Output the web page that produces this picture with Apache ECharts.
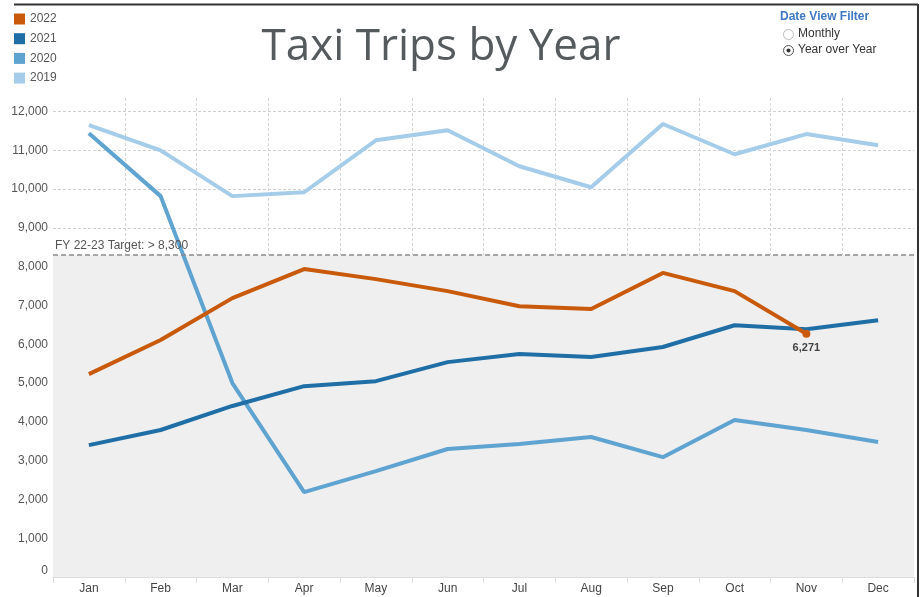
<!DOCTYPE html>
<html>
<head>
<meta charset="utf-8">
<script src="https://cdn.jsdelivr.net/npm/echarts@6/dist/echarts.min.js"></script>
<style>
  html, body { margin: 0; padding: 0; background: #fff; }
  #chart { width: 921px; height: 597px; }
</style>
</head>
<body>
<div id="chart"></div>
<script>
const months = ['Jan', 'Feb', 'Mar', 'Apr', 'May', 'Jun', 'Jul', 'Aug', 'Sep', 'Oct', 'Nov', 'Dec'];
const years = ['2022', '2021', '2020', '2019'];
const trips2022 = [5230, 6110, 7190, 7940, 7680, 7370, 6980, 6910, 7840, 7370, 6271, null];
const trips2021 = [3400, 3790, 4410, 4920, 5050, 5540, 5750, 5670, 5930, 6490, 6390, 6620];
const trips2020 = [11440, 9820, 5000, 2190, 2730, 3300, 3430, 3610, 3090, 4050, 3790, 3480];
const trips2019 = [11650, 11000, 9820, 9920, 11260, 11520, 10590, 10050, 11680, 10900, 11420, 11130];
const target = 8300;
const yMax = 12350;

const colors = {
  '2022': '#c95a0b',
  '2021': '#1f6ea6',
  '2020': '#5fa3d1',
  '2019': '#a5cde9'
};

const chart = echarts.init(document.getElementById('chart'));

function lineSeries(name, data, z) {
  return {
    name: name,
    type: 'line',
    data: data,
    z: z,
    color: colors[name],
    symbol: 'none',
    lineStyle: { width: 4, color: colors[name] },
    itemStyle: { color: colors[name] },
    emphasis: { disabled: true },
    animation: false
  };
}

const s2022 = lineSeries('2022', trips2022, 6);
s2022.data = trips2022.map((v, i) => {
  if (i === 10) {
    return {
      value: v,
      symbol: 'circle',
      symbolSize: 8,
      label: {
        show: true,
        position: 'bottom',
        distance: 5,
        fontSize: 11,
        fontWeight: 'bold',
        color: '#444',
        fontFamily: 'Liberation Sans, Arial, sans-serif',
        formatter: (p) => p.value.toLocaleString('en-US')
      }
    };
  }
  return v;
});
s2022.markLine = {
  silent: true,
  symbol: 'none',
  lineStyle: { type: [5, 3], color: '#8c8c8c', width: 1.5 },
  label: {
    position: 'insideStartTop',
    distance: [2, 3],
    formatter: 'FY 22-23 Target: > 8,300',
    color: '#555',
    fontSize: 12,
    fontFamily: 'Liberation Sans, Arial, sans-serif'
  },
  data: [{ yAxis: target }]
};

const s2019 = lineSeries('2019', trips2019, 3);
s2019.markArea = {
  silent: true,
  itemStyle: { color: '#efefef' },
  data: [[{ yAxis: 0 }, { yAxis: target }]]
};

const option = {
  backgroundColor: '#fff',
  color: years.map(y => colors[y]),
  textStyle: { fontFamily: 'Liberation Sans, Arial, sans-serif' },
  legend: {
    orient: 'vertical',
    left: 14,
    top: 13,
    padding: 0,
    icon: 'rect',
    itemWidth: 11,
    itemHeight: 11,
    itemGap: 7.7,
    data: years,
    selectedMode: false,
    textStyle: { color: '#555', fontSize: 12, padding: [0, 0, 0, 0] }
  },
  grid: { left: 53, right: 7, top: 98, bottom: 20 },
  xAxis: {
    type: 'category',
    data: months,
    boundaryGap: true,
    axisLine: { show: true, lineStyle: { color: '#ddd' } },
    axisTick: { show: true, length: 6, lineStyle: { color: '#ddd' } },
    axisLabel: { color: '#444', fontSize: 12, margin: 6 },
    splitLine: { show: true, showMinLine: false, showMaxLine: false, lineStyle: { type: [3, 2], color: '#d6d6d6' } }
  },
  yAxis: {
    type: 'value',
    min: 0,
    max: yMax,
    interval: 1000,
    axisLine: { show: false },
    axisTick: { show: false },
    axisLabel: {
      color: '#555',
      fontSize: 12,
      margin: 5,
      showMaxLabel: false,
      formatter: (v) => v > 12000 ? '' : (v === 0 ? '{z|0}' : v.toLocaleString('en-US')),
      rich: { z: { fontSize: 12, color: '#555', padding: [0, 0, 13, 0] } }
    },
    splitLine: { show: true, showMaxLine: false, lineStyle: { type: [3, 2], color: '#d0d0d0' } }
  },
  series: [
    s2019,
    lineSeries('2020', trips2020, 4),
    lineSeries('2021', trips2021, 5),
    s2022
  ],
  graphic: [
    {
      type: 'text',
      x: 441,
      y: 25,
      style: {
        text: 'Taxi Trips by Year',
        align: 'center',
        fill: '#555a5d',
        fontSize: 44,
        fontFamily: 'Open Sans, sans-serif'
      }
    },
    { type: 'line', shape: { x1: 14, y1: 4.5, x2: 918, y2: 4.5 }, style: { stroke: '#333', lineWidth: 2 } },
    { type: 'line', shape: { x1: 918, y1: 4, x2: 918, y2: 597 }, style: { stroke: '#333', lineWidth: 2 } },
    {
      type: 'text',
      x: 780, y: 11,
      style: { text: 'Date View Filter', fill: '#3f78c0', fontSize: 12, fontWeight: 'bold', fontFamily: 'Liberation Sans, Arial, sans-serif' }
    },
    { type: 'circle', shape: { cx: 788.5, cy: 34.5, r: 5 }, style: { fill: '#fff', stroke: '#bbb', lineWidth: 1 } },
    {
      type: 'text',
      x: 798, y: 28,
      style: { text: 'Monthly', fill: '#333', fontSize: 12, fontFamily: 'Liberation Sans, Arial, sans-serif' }
    },
    { type: 'circle', shape: { cx: 788.5, cy: 50.5, r: 5 }, style: { fill: '#fff', stroke: '#555', lineWidth: 1 } },
    { type: 'circle', shape: { cx: 788.5, cy: 50.5, r: 2 }, style: { fill: '#333' } },
    {
      type: 'text',
      x: 798, y: 44,
      style: { text: 'Year over Year', fill: '#333', fontSize: 12, fontFamily: 'Liberation Sans, Arial, sans-serif' }
    }
  ]
};

chart.setOption(option);
</script>
</body>
</html>
